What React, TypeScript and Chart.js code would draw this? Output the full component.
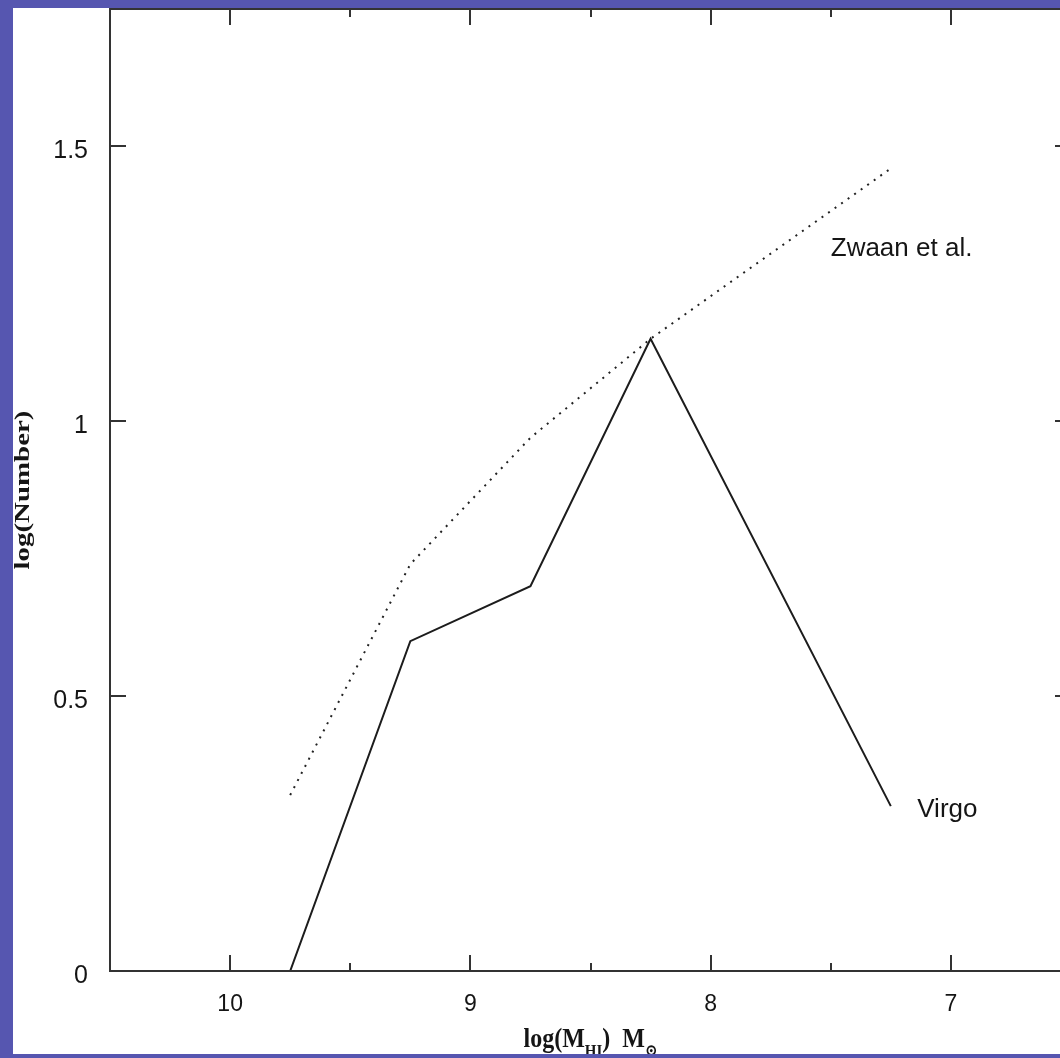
import React, { useEffect, useRef } from 'react';
import { Chart, registerables } from 'chart.js';

Chart.register(...registerables);

// ---- data ----
const massBins = [9.75, 9.25, 8.75, 8.25, 7.25];
const virgoLogN = [0, 0.6, 0.7, 1.15, 0.3];
const zwaanLogN = [0.32, 0.74, 0.97, 1.15, 1.46];
const seriesNames = ['Virgo', 'Zwaan et al.'];

const xTickValues = [10, 9, 8, 7];
const xTickLabels = ['10', '9', '8', '7'];
const xMinorTickValues = [10.5, 9.5, 8.5, 7.5];
const yTickValues = [0, 0.5, 1, 1.5];
const yTickLabels = ['0', '0.5', '1', '1.5'];

const xRange = [6.5, 10.5];
const yRange = [0, 1.75];

// label anchors (data coordinates)
const zwaanLabelAt = [7.5, 1.3];
const virgoLabelAt = [7.14, 0.28];

const BLUE = '#5656b0';
const INK = '#151515';
const AXIS = '#333333';

const CANVAS_W = 1081;
const CANVAS_H = 1058;
const WHITE_LEFT = 13;
const WHITE_TOP = 8;
const WHITE_BOTTOM = 1054;

const framePlugin = {
  id: 'frame',
  beforeDraw(chart: any) {
    const { ctx, width, height } = chart;
    ctx.save();
    ctx.fillStyle = BLUE;
    ctx.fillRect(0, 0, width, height);
    ctx.fillStyle = '#ffffff';
    ctx.fillRect(WHITE_LEFT, WHITE_TOP, width - WHITE_LEFT, WHITE_BOTTOM - WHITE_TOP);
    ctx.restore();
  },
  afterDraw(chart: any) {
    const { ctx, chartArea, scales, width, height } = chart;
    const { left, right, top, bottom } = chartArea;
    const xs = scales.x;
    const ys = scales.y;
    ctx.save();
    // axes box
    ctx.strokeStyle = AXIS;
    ctx.lineWidth = 2;
    ctx.strokeRect(left, top, right - left, bottom - top);
    ctx.beginPath();
    const major = 16;
    const minor = 8;
    xTickValues.forEach((v) => {
      const px = Math.round(xs.getPixelForValue(v));
      ctx.moveTo(px, bottom);
      ctx.lineTo(px, bottom - major);
      ctx.moveTo(px, top);
      ctx.lineTo(px, top + major);
    });
    xMinorTickValues.forEach((v) => {
      const px = Math.round(xs.getPixelForValue(v));
      ctx.moveTo(px, bottom);
      ctx.lineTo(px, bottom - minor);
      ctx.moveTo(px, top);
      ctx.lineTo(px, top + minor);
    });
    yTickValues.forEach((v) => {
      const py = Math.round(ys.getPixelForValue(v));
      ctx.moveTo(left, py);
      ctx.lineTo(left + major, py);
      ctx.moveTo(right, py);
      ctx.lineTo(right - major, py);
    });
    ctx.stroke();

    // annotations
    ctx.fillStyle = INK;
    ctx.font = '26px "Liberation Sans", Arial, sans-serif';
    ctx.textAlign = 'left';
    ctx.textBaseline = 'alphabetic';
    ctx.fillText(seriesNames[1], xs.getPixelForValue(zwaanLabelAt[0]), ys.getPixelForValue(zwaanLabelAt[1]));
    ctx.fillText(seriesNames[0], xs.getPixelForValue(virgoLabelAt[0]), ys.getPixelForValue(virgoLabelAt[1]));

    // y title (rotated, stretched along text)
    ctx.save();
    ctx.translate(24, (top + bottom) / 2);
    ctx.rotate(-Math.PI / 2);
    ctx.font = 'bold 20px "Liberation Serif", "Times New Roman", serif';
    const yt = 'log(Number)';
    const w = ctx.measureText(yt).width;
    ctx.scale(159 / w, 1);
    ctx.textAlign = 'center';
    ctx.textBaseline = 'middle';
    ctx.fillText(yt, 0, 0);
    ctx.restore();

    // x title with subscripts
    ctx.save();
    const mainFont = 'bold 24px "Liberation Serif", "Times New Roman", serif';
    const subFont = 'bold 15px "Liberation Serif", "DejaVu Serif", serif';
    const parts = [
      { t: 'log(M', sub: false },
      { t: 'HI', sub: true },
      { t: ')  M', sub: false },
      { t: '\u2299', sub: true },
    ];
    let total = 0;
    parts.forEach((p) => {
      ctx.font = p.sub ? subFont : mainFont;
      total += ctx.measureText(p.t).width;
    });
    ctx.translate((left + right) / 2 - total / 2, 1047);
    ctx.scale(1, 1.15);
    ctx.textAlign = 'left';
    ctx.textBaseline = 'alphabetic';
    let cx = 0;
    parts.forEach((p) => {
      ctx.font = p.sub ? subFont : mainFont;
      ctx.fillText(p.t, cx, p.sub ? 8 : 0);
      cx += ctx.measureText(p.t).width;
    });
    ctx.restore();

    // bottom blue strip clips the title
    ctx.fillStyle = BLUE;
    ctx.fillRect(0, WHITE_BOTTOM, width, height - WHITE_BOTTOM);
    ctx.fillRect(0, 0, WHITE_LEFT, height);
    ctx.restore();
  },
};

export default function App() {
  const ref = useRef<HTMLCanvasElement | null>(null);

  useEffect(() => {
    if (!ref.current) return;
    const chart = new Chart(ref.current, {
      type: 'line',
      data: {
        datasets: [
          {
            label: seriesNames[0],
            data: massBins.map((x, i) => ({ x, y: virgoLogN[i] })),
            borderColor: '#1c1c1c',
            borderWidth: 2,
            pointRadius: 0,
            fill: false,
            tension: 0,
          },
          {
            label: seriesNames[1],
            data: massBins.map((x, i) => ({ x, y: zwaanLogN[i] })),
            borderColor: '#222222',
            borderWidth: 2,
            borderDash: [2, 6],
            pointRadius: 0,
            fill: false,
            tension: 0,
          },
        ],
      },
      options: {
        animation: false,
        responsive: false,
        devicePixelRatio: 1,
        layout: { padding: { left: 0, top: 9, right: 10, bottom: 0 } },
        plugins: {
          legend: { display: false },
          tooltip: { enabled: false },
          title: { display: false },
        },
        scales: {
          x: {
            type: 'linear',
            reverse: true,
            min: xRange[0],
            max: xRange[1],
            grid: { display: false, drawTicks: false },
            border: { display: false },
            afterBuildTicks: (axis: any) => {
              axis.ticks = xTickValues.map((v) => ({ value: v }));
            },
            afterFit: (axis: any) => {
              axis.height = CANVAS_H - 971;
              axis.paddingLeft = 0;
              axis.paddingRight = 0;
              axis.paddingTop = 0;
              axis.paddingBottom = 0;
            },
            ticks: {
              autoSkip: false,
              maxRotation: 0,
              padding: 20,
              color: INK,
              font: { family: '"Liberation Sans", Arial, sans-serif', size: 23 },
              callback: (_v: any, i: number) => xTickLabels[i],
            },
          },
          y: {
            type: 'linear',
            min: yRange[0],
            max: yRange[1],
            grid: { display: false, drawTicks: false },
            border: { display: false },
            afterBuildTicks: (axis: any) => {
              axis.ticks = yTickValues.map((v) => ({ value: v }));
            },
            afterFit: (axis: any) => {
              axis.width = 110;
              axis.paddingLeft = 0;
              axis.paddingRight = 0;
              axis.paddingTop = 0;
              axis.paddingBottom = 0;
            },
            ticks: {
              autoSkip: false,
              padding: 22,
              labelOffset: 5,
              color: INK,
              font: { family: '"Liberation Sans", Arial, sans-serif', size: 25 },
              callback: (_v: any, i: number) => yTickLabels[i],
            },
          },
        },
      },
      plugins: [framePlugin],
    });
    return () => chart.destroy();
  }, []);

  return (
    <div
      style={{
        position: 'absolute',
        left: 0,
        top: 0,
        width: 1060,
        height: 1058,
        overflow: 'hidden',
        background: BLUE,
      }}
    >
      <canvas ref={ref} width={CANVAS_W} height={CANVAS_H} style={{ display: 'block' }} />
    </div>
  );
}
